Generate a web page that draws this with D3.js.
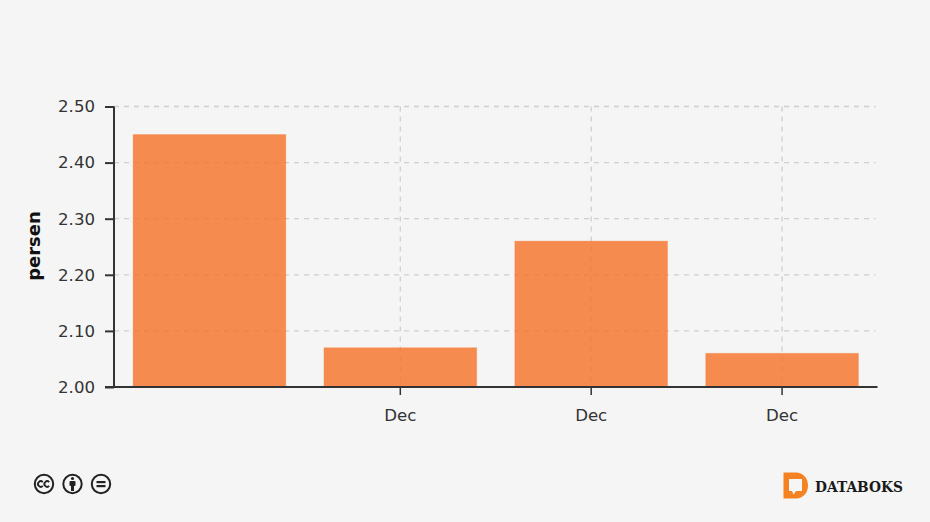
<!DOCTYPE html>
<html><head><meta charset="utf-8">
<script src="https://cdn.jsdelivr.net/npm/d3@7/dist/d3.min.js"></script>
<style>
html,body{margin:0;padding:0;background:#f5f5f5;}
svg{display:block;}
text{font-family:"DejaVu Sans",sans-serif;}
</style></head><body>
<svg id="c" width="930" height="522"></svg>
<script>
const categories = ["", "Dec", "Dec", "Dec"];
const values = [2.45, 2.07, 2.26, 2.06];
const yTicks = [2.0, 2.1, 2.2, 2.3, 2.4, 2.5];
const yLabel = "persen";
const brand = "DATABOKS";

const svg = d3.select("#c");
const L = 114, R = 877.5, T = 106.5, B = 387;
const x = d3.scaleBand().domain(d3.range(categories.length)).range([L, R]).paddingInner(0.2).paddingOuter(0.1);
const y = d3.scaleLinear().domain([2, 2.5]).range([B, T]);

// grid
const grid = svg.append("g").attr("stroke", "#cfcfcf").attr("stroke-width", 1.3).attr("stroke-dasharray", "5 5").attr("fill", "none");
grid.selectAll("line.h").data(yTicks.slice(1)).join("line").attr("class", "h")
  .attr("x1", L).attr("x2", R - 2).attr("y1", d => y(d)).attr("y2", d => y(d));
grid.selectAll("line.v").data(d3.range(categories.length).filter(i => categories[i])).join("line").attr("class", "v")
  .attr("x1", i => x(i) + x.bandwidth() / 2).attr("x2", i => x(i) + x.bandwidth() / 2).attr("y1", T).attr("y2", B);

// bars
svg.append("g").selectAll("rect").data(values).join("rect")
  .attr("x", (d, i) => x(i)).attr("width", x.bandwidth())
  .attr("y", d => y(d)).attr("height", d => B - y(d))
  .attr("fill", "#f57025").attr("fill-opacity", 0.8)
  .attr("stroke", "#f57025").attr("stroke-opacity", 0.25).attr("stroke-width", 1);

// axes
const yAxis = svg.append("g").attr("transform", `translate(${L},0)`)
  .call(d3.axisLeft(y).tickValues(yTicks).tickFormat(d3.format(".2f")).tickSize(9).tickPadding(10));
const xAxis = svg.append("g").attr("transform", `translate(0,${B})`)
  .call(d3.axisBottom(x).tickFormat(i => categories[i]).tickSize(8).tickPadding(14));
xAxis.selectAll(".tick").filter(i => !categories[i]).remove();
svg.selectAll(".domain").attr("stroke", "#333").attr("stroke-width", 2).attr("d", null);
yAxis.select(".domain").attr("d", `M0,${T}V${B}`);
xAxis.select(".domain").attr("d", `M${L - 9},0H${R}`);
svg.selectAll(".tick line").attr("stroke", "#333").attr("stroke-width", 2);
svg.selectAll(".tick text").attr("fill", "#333").style("font-size", "16.6px").style("font-family", '"DejaVu Sans",sans-serif');
xAxis.selectAll(".tick line").attr("stroke-width", 1.5);

svg.append("text").attr("transform", "translate(40,246) rotate(-90)").attr("text-anchor", "middle")
  .attr("font-size", 18).attr("font-weight", "bold").attr("fill", "#111").text(yLabel);

// licence icons
const icons = svg.append("g").attr("fill", "none").attr("stroke", "#222");
[44, 72.5, 101].forEach(cx => {
  icons.append("circle").attr("cx", cx).attr("cy", 484).attr("r", 9.2).attr("stroke-width", 2).attr("fill", "#f5f5f5");
});
[[40.8],[47.2]].forEach(([cx]) => {
  icons.append("path").attr("d", d3.arc()({innerRadius: 2.8, outerRadius: 2.8, startAngle: Math.PI * 0.25, endAngle: Math.PI * 1.75}))
    .attr("transform", `translate(${cx},484) rotate(90)`).attr("stroke-width", 1.8);
});
icons.append("circle").attr("cx", 72.5).attr("cy", 478.5).attr("r", 1.6).attr("fill", "#222").attr("stroke", "none");
icons.append("rect").attr("x", 69.5).attr("y", 481).attr("width", 6).attr("height", 5).attr("rx", 1).attr("fill", "#222").attr("stroke", "none");
icons.append("rect").attr("x", 71).attr("y", 485).attr("width", 3).attr("height", 6).attr("fill", "#222").attr("stroke", "none");
icons.append("rect").attr("x", 96.5).attr("y", 481).attr("width", 9).attr("height", 2.2).attr("fill", "#222").attr("stroke", "none");
icons.append("rect").attr("x", 96.5).attr("y", 485).attr("width", 9).attr("height", 2.2).attr("fill", "#222").attr("stroke", "none");

// brand
svg.append("path").attr("fill", "#f58220").attr("fill-rule", "evenodd")
  .attr("d", "M783.5,472.5H796C803,472.5 808,478 808,485.5C808,493 803,498.5 796,498.5H783.5ZM789,479V491H792L793.5,494.5L796,491H802V479Z");
svg.append("text").attr("x", 815).attr("y", 491.5).attr("font-size", 15.5).attr("font-weight", "bold")
  .style("font-family", '"DejaVu Serif",serif').attr("fill", "#1a1a1a").attr("textLength", 88).attr("lengthAdjust", "spacingAndGlyphs").text(brand);
</script>
</body></html>
